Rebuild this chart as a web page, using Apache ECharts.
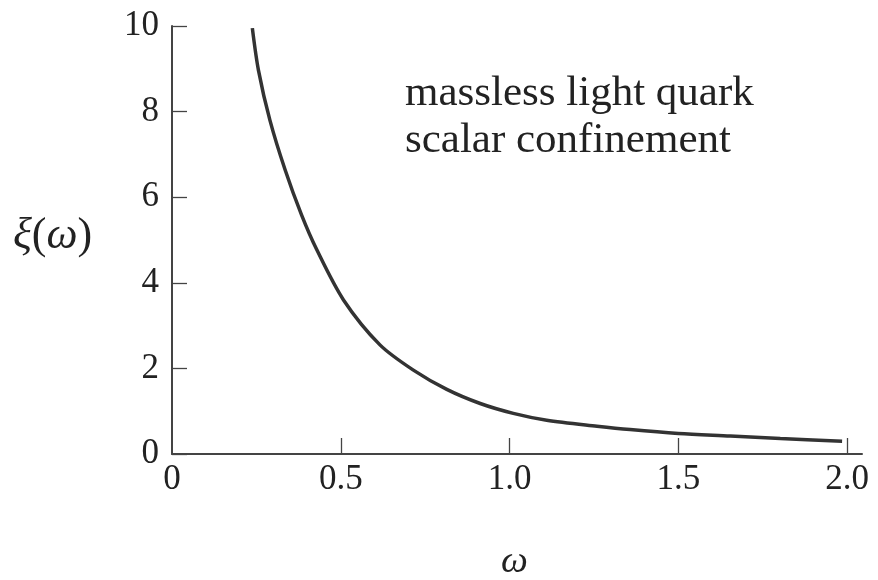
<!DOCTYPE html>
<html>
<head>
<meta charset="utf-8">
<script src="https://cdn.jsdelivr.net/npm/echarts@6/dist/echarts.min.js"></script>
<style>html,body{margin:0;padding:0;background:#fff;}#c{width:878px;height:580px;}</style>
</head>
<body>
<div id="c"></div>
<script>
var omega = [0.238, 0.256, 0.29, 0.335, 0.384, 0.429, 0.508, 0.616, 0.715, 0.814, 0.913, 1.011, 1.11, 1.259, 1.357, 1.5, 1.654, 1.802, 1.985];
var xi    = [9.95, 8.97, 7.80, 6.64, 5.58, 4.77, 3.60, 2.55, 1.96, 1.51, 1.18, 0.95, 0.79, 0.65, 0.57, 0.48, 0.42, 0.36, 0.30];
var xTickValues = [0.5, 1.0, 1.5, 2.0];
var xLabelValues = [0, 0.5, 1.0, 1.5, 2.0];
var xLabelText = {"0": "0", "0.5": "0.5", "1": "1.0", "1.5": "1.5", "2": "2.0"};
var yTicks = [0, 2, 4, 6, 8, 10];
var annotation = ["massless light quark", "scalar confinement"];

var chart = echarts.init(document.getElementById('c'), null, {renderer: 'canvas'});
var serif = '"Liberation Serif", "Times New Roman", serif';
var axisColor = '#444';
var data = omega.map(function (w, i) { return [w, xi[i]]; });

chart.setOption({
  backgroundColor: '#fff',
  animation: false,
  grid: {left: 172, top: 26, width: 690, height: 428, containLabel: false},
  xAxis: {
    type: 'value', min: 0, max: 2.044,
    axisLine: {show: true, lineStyle: {color: axisColor, width: 2}},
    axisTick: {show: true, inside: true, length: 16, lineStyle: {color: axisColor, width: 1.3}, customValues: xTickValues},
    axisLabel: {show: true, customValues: xLabelValues, margin: 8, fontFamily: serif, fontSize: 35, color: '#222',
      formatter: function (v) { return xLabelText[String(v)] !== undefined ? xLabelText[String(v)] : ''; }},
    splitLine: {show: false}
  },
  yAxis: {
    type: 'value', min: 0, max: 10, interval: 2,
    axisLine: {show: true, lineStyle: {color: axisColor, width: 2}},
    axisTick: {show: true, inside: true, length: 15, lineStyle: {color: axisColor, width: 1.3}, customValues: yTicks},
    axisLabel: {show: true, margin: 13, fontFamily: serif, fontSize: 35, color: '#222'},
    splitLine: {show: false}
  },
  series: [{
    type: 'line', data: data, smooth: 0.3, showSymbol: false,
    lineStyle: {color: '#333', width: 3.5}
  }],
  graphic: [
    {type: 'text', left: 405, top: 72, style: {text: annotation[0], font: '43px ' + serif, fill: '#222'}},
    {type: 'text', left: 405, top: 119, style: {text: annotation[1], font: '43px ' + serif, fill: '#222'}},
    {type: 'text', left: 13, top: 214, style: {
      text: '{i|ξ}{r|(}{i|ω}{r|)}',
      rich: {
        i: {fontFamily: serif, fontStyle: 'italic', fontSize: 44, fill: '#222', color: '#222'},
        r: {fontFamily: serif, fontSize: 44, fill: '#222', color: '#222'}
      }
    }},
    {type: 'text', left: 501, top: 543, style: {text: 'ω', font: 'italic 38px ' + serif, fill: '#222'}}
  ]
});
</script>
</body>
</html>
